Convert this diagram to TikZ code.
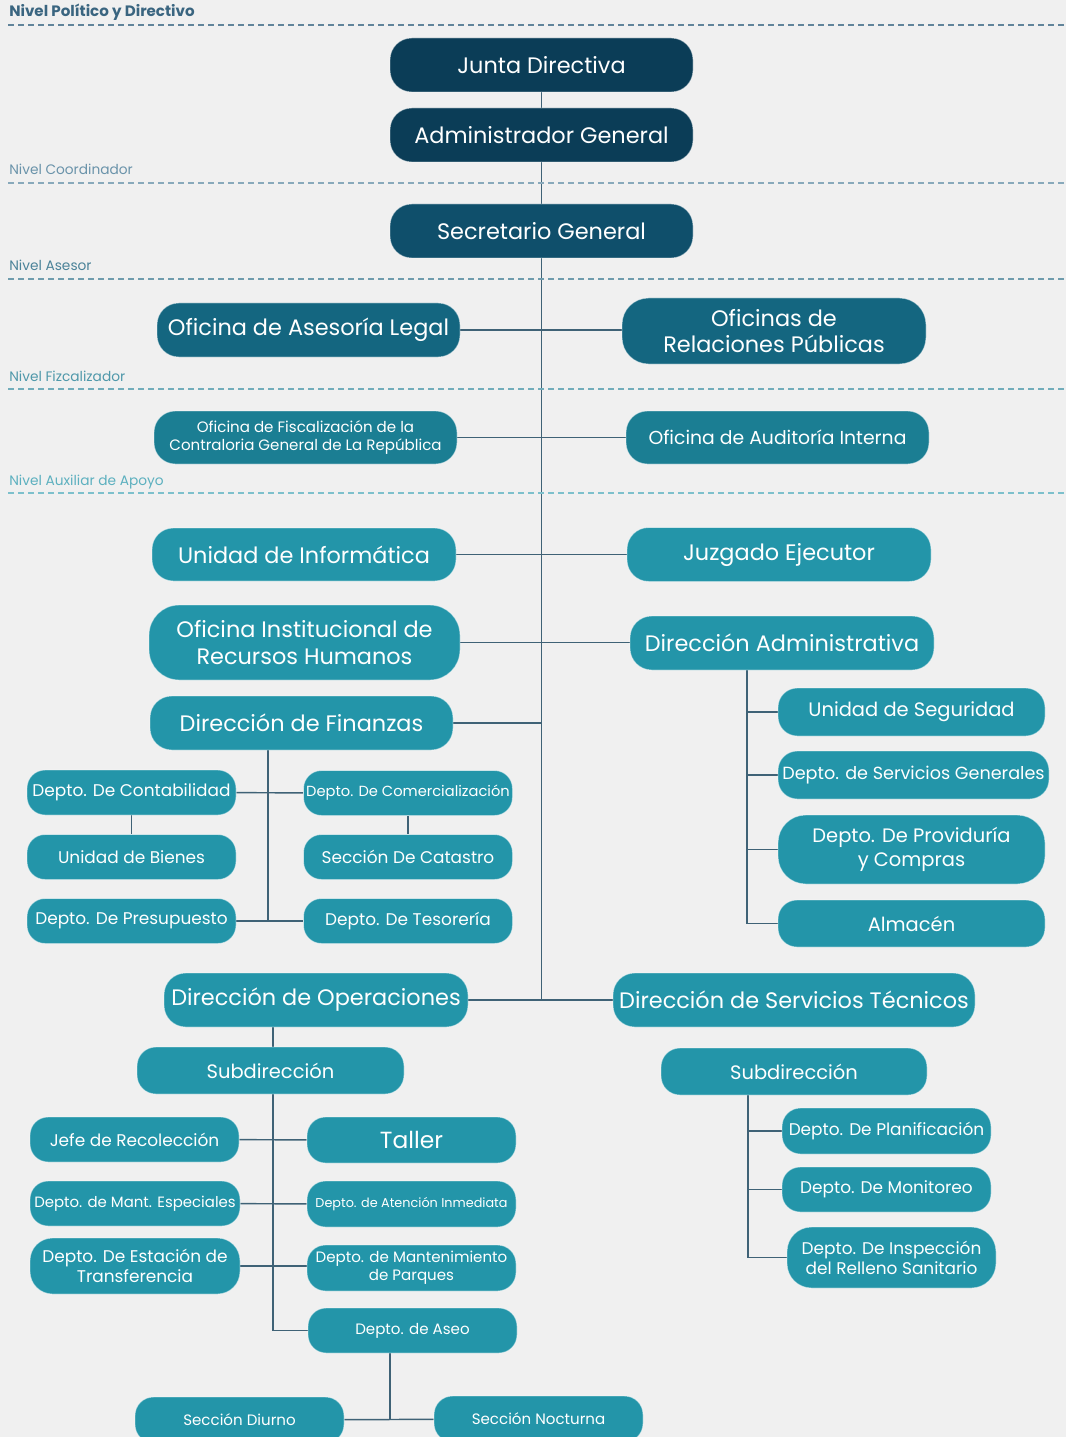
\documentclass[tikz,border=0pt]{standalone}
\usepackage{fontspec}
\setmainfont{Poppins}
\usepackage{tikz}
\usetikzlibrary{positioning, backgrounds, calc}
\definecolor{paper}{HTML}{F0F0F0}
\definecolor{navy}{HTML}{0B3D57}
\definecolor{secblue}{HTML}{0F4F6B}
\definecolor{asesblue}{HTML}{146680}
\definecolor{fiscblue}{HTML}{1B7E93}
\definecolor{apoyblue}{HTML}{2395A9}
\definecolor{linkgrey}{HTML}{3F6276}
\newcommand\fa{\fontsize{16.8}{19.8}\selectfont}
\newcommand\fb{\fontsize{14.6}{18}\selectfont}
\newcommand\fc{\fontsize{12.7}{15}\selectfont}
\newcommand\fd{\fontsize{11.3}{13.5}\selectfont}
\newcommand\fe{\fontsize{9.6}{11.5}\selectfont}

\begin{document}
\begin{tikzpicture}[x=0.75pt, y=-0.75pt,
  unit/.style={rectangle, text=white, align=center, inner sep=0pt,
               draw=white, draw opacity=0.45, line width=0.7pt},
  sz/.style 2 args={minimum width=#1*0.75pt, minimum height=#2*0.75pt,
               rounded corners=#2*0.3pt},
  dk/.style={unit, fill=navy},
  sg/.style={unit, fill=secblue},
  as/.style={unit, fill=asesblue},
  fz/.style={unit, fill=fiscblue},
  ap/.style={unit, fill=apoyblue},
  ln/.style={draw=linkgrey, line width=1.1pt},
  lvl/.style={line width=0.8pt, dash pattern=on 4.5pt off 3pt},
  lvltxt/.style={anchor=base west, inner sep=0pt, font=\fontsize{10.3}{12}\selectfont}]
\useasboundingbox (0,0) rectangle (1066,1437);

% levels
\foreach \yy/\txt/\col in {25/{\fontsize{11.3}{13}\selectfont\bfseries Nivel Político y Directivo}/3A6580,
    183/Nivel Coordinador/6A93AA, 279/Nivel Asesor/4B8399,
    389/Nivel Fizcalizador/4F98AA, 493/Nivel Auxiliar de Apoyo/5CB0BF}{
  \definecolor{lvlc}{HTML}{\col}
  \draw[lvl, lvlc!80] (8,\yy) -- (1066,\yy);
  \node[lvltxt, text=lvlc] at (9,\yy-8) {\txt};
}

% top
\node[dk, sz={303}{54}, font=\fa] (junta) at (541.5,65) {Junta Directiva};
\node[dk, sz={303}{54}, font=\fa] (admin) at (541.5,135) {Administrador General};
\node[sg, sz={303}{54}, font=\fa] (secre) at (541.5,231) {Secretario General};
\node[as, sz={303}{54}, font=\fa] (legal) at (308.5,330) {Oficina de Asesoría Legal};
\node[as, sz={304}{66}, font=\fa] (relpub) at (774,331) {Oficinas de\\Relaciones Públicas};
\node[fz, sz={303}{53}, font=\fd] (fisc) at (305.5,437.5) {Oficina de Fiscalización de la\\Contraloria General de La República};
\node[fz, sz={303}{53}, font=\fontsize{14.1}{17}\selectfont] (audit) at (777.5,437.5) {Oficina de Auditoría Interna};

% apoyo
\node[ap, sz={304}{53}, font=\fa] (info) at (304,554.5) {Unidad de Informática};
\node[ap, sz={304}{54}, font=\fa] (juzg) at (779,554.5) {Juzgado Ejecutor};
\node[ap, sz={311}{75}, font=\fa] (rrhh) at (304.5,642.5) {Oficina Institucional de\\Recursos Humanos};
\node[ap, sz={304}{54}, font=\fa] (diradm) at (782,643) {Dirección Administrativa};
\node[ap, sz={303}{54}, font=\fa] (dirfin) at (301.5,723) {Dirección de Finanzas};

% finanzas
\node[ap, sz={209}{45}, font=\fc] (conta) at (131.5,792.5) {Depto. De Contabilidad};
\node[ap, sz={209}{45}, font=\fontsize{11}{13}\selectfont] (comer) at (408,793) {Depto. De Comercialización};
\node[ap, sz={209}{45}, font=\fc] (bienes) at (131.5,857) {Unidad de Bienes};
\node[ap, sz={209}{45}, font=\fc] (catas) at (408,857) {Sección De Catastro};
\node[ap, sz={209}{45}, font=\fc] (presup) at (131.5,921) {Depto. De Presupuesto};
\node[ap, sz={209}{45}, font=\fc] (tesor) at (408,921) {Depto. De Tesorería};

% administrativa
\node[ap, sz={267}{48}, font=\fb] (segur) at (911.5,712) {Unidad de Seguridad};
\node[ap, sz={271}{48}, font=\fontsize{13.2}{16}\selectfont] (sergen) at (913.5,775) {Depto. de Servicios Generales};
\node[ap, sz={267}{69}, font=\fb] (provi) at (911.5,849.5) {Depto. De Providuría\\y Compras};
\node[ap, sz={267}{47}, font=\fb] (almac) at (911.5,923.5) {Almacén};

% operaciones
\node[ap, sz={304}{54}, font=\fa] (dirop) at (316,1000) {Dirección de Operaciones};
\node[ap, sz={362}{54}, font=\fa] (dirst) at (794,1000) {Dirección de Servicios Técnicos};
\node[ap, sz={267}{47}, font=\fb] (subop) at (270.5,1070.5) {Subdirección};
\node[ap, sz={266}{47}, font=\fb] (subst) at (794,1071.5) {Subdirección};
\node[ap, sz={209}{45}, font=\fc] (jefe) at (134.5,1139.5) {Jefe de Recolección};
\node[ap, sz={209}{46}, font=\fontsize{17.5}{20}\selectfont] (taller) at (411.5,1140) {Taller};
\node[ap, sz={210}{45}, font=\fontsize{11.2}{13}\selectfont] (mant) at (135,1203.5) {Depto. de Mant. Especiales};
\node[ap, sz={209}{46}, font=\fe] (atenc) at (411.5,1204) {Depto. de Atención Inmediata};
\node[ap, sz={210}{56}, font=\fc] (estac) at (135,1266) {Depto. De Estación de\\Transferencia};
\node[ap, sz={209}{46}, font=\fd] (parq) at (411.5,1268) {Depto. de Mantenimiento\\de Parques};
\node[ap, sz={209}{45}, font=\fd] (aseo) at (412.5,1330.5) {Depto. de Aseo};
\node[ap, sz={209}{46}, font=\fd] (diurno) at (239.5,1420) {Sección Diurno};
\node[ap, sz={209}{46}, font=\fd] (noct) at (538.5,1419) {Sección Nocturna};

% servicios tecnicos
\node[ap, sz={209}{46}, font=\fc] (planif) at (886.5,1131) {Depto. De Planificación};
\node[ap, sz={209}{45}, font=\fc] (monit) at (886.5,1189.5) {Depto. De Monitoreo};
\node[ap, sz={209}{61}, font=\fc] (inspec) at (891.5,1257.5) {Depto. De Inspección\\del Relleno Sanitario};

\begin{scope}[on background layer]
  \fill[paper] (0,0) rectangle (1066,1437);
  \coordinate (fb) at (268,750);
  \coordinate (ab) at (747,670);
  \coordinate (ob) at (273,1027);
  \coordinate (sb) at (390,1353);
  \coordinate (tb) at (748,1095);
  \draw[ln] (junta.south) -- (junta.south |- dirop.east);
  \draw[ln] (dirop) -- (dirst);
  \draw[ln] (legal) -- (legal -| relpub.west);
  \draw[ln] (fisc) -- (audit);
  \draw[ln] (info) -- (juzg);
  \draw[ln] (rrhh.east) -- (rrhh.east -| diradm.west);
  \draw[ln] (dirfin.east) -- (dirfin.east -| junta.south);
  \draw[ln] (fb) -- (fb |- presup.east);
  \draw[ln] (conta) -- (comer);
  \draw[ln] (presup) -- (tesor);
  \draw[ln] (conta) -- (bienes);
  \draw[ln] (comer) -- (catas);
  \draw[ln] (ab) -- (ab |- almac.west) -- (almac.west);
  \foreach \n in {segur, sergen, provi}
    \draw[ln] (ab |- \n.west) -- (\n.west);
  \draw[ln] (ob) -- (ob |- subop.north);
  \draw[ln] (ob |- subop.south) -- (ob |- aseo.west) -- (aseo.west);
  \draw[ln] (jefe) -- (taller);
  \draw[ln] (mant) -- (atenc);
  \draw[ln] (estac.east) -- (estac.east -| parq.west);
  \draw[ln] (sb) -- (sb |- diurno.east);
  \draw[ln] (diurno) -- (noct);
  \draw[ln] (tb) -- (tb |- inspec.west) -- (inspec.west);
  \foreach \n in {planif, monit}
    \draw[ln] (tb |- \n.west) -- (\n.west);
\end{scope}
\end{tikzpicture}
\end{document}
